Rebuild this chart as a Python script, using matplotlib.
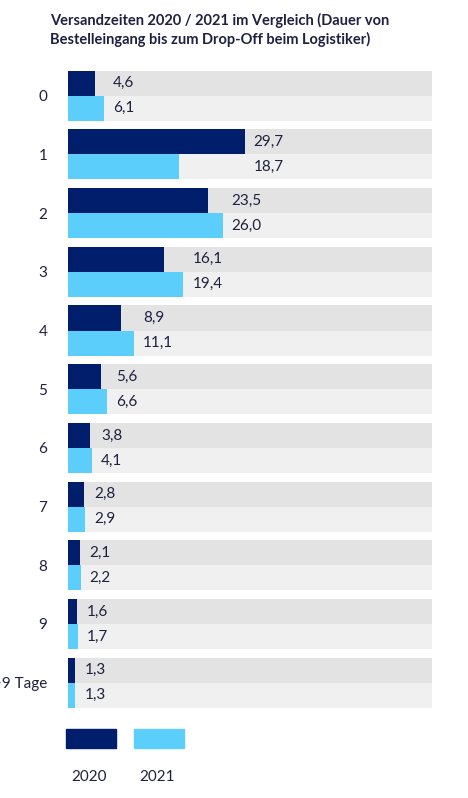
import matplotlib
matplotlib.use("Agg")
import matplotlib.pyplot as plt
from matplotlib.patches import Rectangle

plt.rcParams['font.family'] = ['Lato', 'DejaVu Sans']

categories = ['0', '1', '2', '3', '4', '5', '6', '7', '8', '9', '>9 Tage']
values_2020 = [4.6, 29.7, 23.5, 16.1, 8.9, 5.6, 3.8, 2.8, 2.1, 1.6, 1.3]
values_2021 = [6.1, 18.7, 26.0, 19.4, 11.1, 6.6, 4.1, 2.9, 2.2, 1.7, 1.3]
series_names = ['2020', '2021']
x_max = 61

C2020 = '#001e6c'
C2021 = '#5ccefb'
BG_TOP = '#e3e3e3'
BG_BOT = '#f0f0f0'
TXT = '#1e2140'

W, H = 468, 798
fig = plt.figure(figsize=(W / 100, H / 100), dpi=100)
ax_l, ax_r, ax_t, ax_b = 67.5, 431.5, 70.7, 707.7
ax = fig.add_axes([ax_l / W, 1 - ax_b / H, (ax_r - ax_l) / W, (ax_b - ax_t) / H])

half = 0.426
n = len(categories)
pos = list(range(n))
ax.barh([p - half / 2 for p in pos], [x_max] * n, height=half, color=BG_TOP, zorder=1)
ax.barh([p + half / 2 for p in pos], [x_max] * n, height=half, color=BG_BOT, zorder=1)
ax.barh([p - half / 2 for p in pos], values_2020, height=half, color=C2020, zorder=2)
ax.barh([p + half / 2 for p in pos], values_2021, height=half, color=C2021, zorder=2)

for p, a, b in zip(pos, values_2020, values_2021):
    m = max(a, b)
    for val, yy in ((a, p - half / 2), (b, p + half / 2)):
        ax.annotate(f"{val:.1f}".replace('.', ','), (m, yy), xytext=(6.5, 0),
                    textcoords='offset points', ha='left', va='center',
                    fontsize=11, color=TXT, zorder=3)

ax.set_xlim(0, x_max)
ax.set_ylim(n - 1 + half, -half)
ax.set_yticks(pos)
ax.set_yticklabels(categories)
ax.tick_params(axis='y', length=0, pad=14.5, labelsize=11, labelcolor=TXT)
ax.set_xticks([])
for s in ax.spines.values():
    s.set_visible(False)

fig.text(50 / W, 1 - 13 / H,
         "Versandzeiten 2020 / 2021 im Vergleich (Dauer von\nBestelleingang bis zum Drop-Off beim Logistiker)",
         ha='left', va='top', fontsize=10.5, fontweight='bold', color=TXT, linespacing=1.35)

# legend
for x0, col, name in ((65.7, C2020, series_names[0]), (134, C2021, series_names[1])):
    fig.patches.append(Rectangle((x0 / W, 1 - 748.3 / H), 50 / W, 19 / H,
                                 transform=fig.transFigure, color=col))
    fig.text((x0 + 23) / W, 1 - 776.7 / H, name, ha='center', va='center',
             fontsize=11, color=TXT)

fig.savefig('out.png', dpi=100, facecolor='white')
